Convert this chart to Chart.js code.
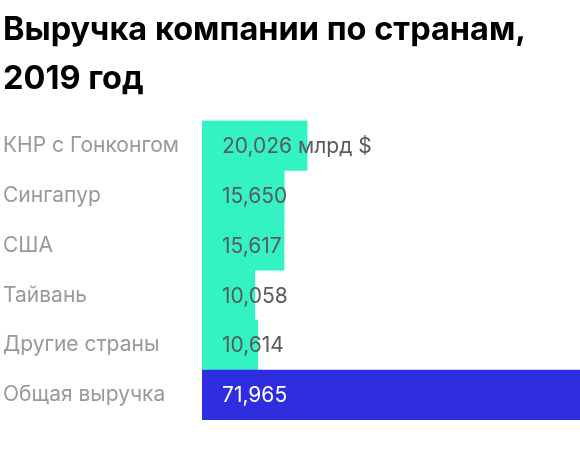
<!DOCTYPE html>
<html>
<head>
<meta charset="utf-8">
<script src="https://cdn.jsdelivr.net/npm/chart.js@4"></script>
<style>
  html, body { margin: 0; padding: 0; background: #fff; }
  #wrap { width: 580px; height: 464px; position: relative; }
</style>
</head>
<body>
<div id="wrap"><canvas id="revenueChart"></canvas></div>
<script>
const titleLines = ['Выручка компании по странам,', '2019 год'];
const countries = ['КНР с Гонконгом', 'Сингапур', 'США', 'Тайвань', 'Другие страны', 'Общая выручка'];
const revenue = [20.026, 15.650, 15.617, 10.058, 10.614, 71.965];
const valueLabels = ['20,026 млрд $', '15,650', '15,617', '10,058', '10,614', '71,965'];
const barColors = ['#33f3c5', '#33f3c5', '#33f3c5', '#33f3c5', '#33f3c5', '#2e2ee0'];
const labelColors = ['#5a5a5a', '#5a5a5a', '#5a5a5a', '#5a5a5a', '#5a5a5a', '#ffffff'];

// values written inside the bars, 20px from the bar start
const valueLabelPlugin = {
  id: 'valueLabels',
  afterDatasetsDraw(chart) {
    const ctx = chart.ctx;
    const x0 = chart.scales.x.getPixelForValue(0);
    ctx.save();
    ctx.font = '21px Inter';
    ctx.textBaseline = 'middle';
    chart.getDatasetMeta(0).data.forEach((bar, i) => {
      ctx.fillStyle = labelColors[i];
      ctx.fillText(valueLabels[i], x0 + 20, bar.y + 1);
    });
    ctx.restore();
  }
};

const ctx = document.getElementById('revenueChart').getContext('2d');
const revenueChart = new Chart(ctx, {
  type: 'bar',
  data: {
    labels: countries,
    datasets: [{
      data: revenue,
      backgroundColor: barColors,
      barPercentage: 1,
      categoryPercentage: 1
    }]
  },
  options: {
    indexAxis: 'y',
    responsive: true,
    maintainAspectRatio: false,
    animation: false,
    layout: { padding: { left: 3, right: 0, top: 6, bottom: 44 } },
    plugins: {
      legend: { display: false },
      tooltip: { enabled: false },
      title: {
        display: true,
        text: titleLines,
        align: 'start',
        color: '#000',
        font: { family: 'Inter', size: 32.5, weight: 'bold', lineHeight: 1.5 },
        padding: { top: 0, bottom: 17 }
      }
    },
    scales: {
      x: {
        display: false,
        min: 0,
        max: 71.965
      },
      y: {
        grid: { display: false, drawTicks: false },
        border: { display: false },
        afterFit(scale) { scale.width = 199; },
        ticks: {
          crossAlign: 'far',
          padding: 0,
          color: '#999',
          font: { family: 'Inter', size: 21 }
        }
      }
    }
  },
  plugins: [valueLabelPlugin]
});
</script>
</body>
</html>
